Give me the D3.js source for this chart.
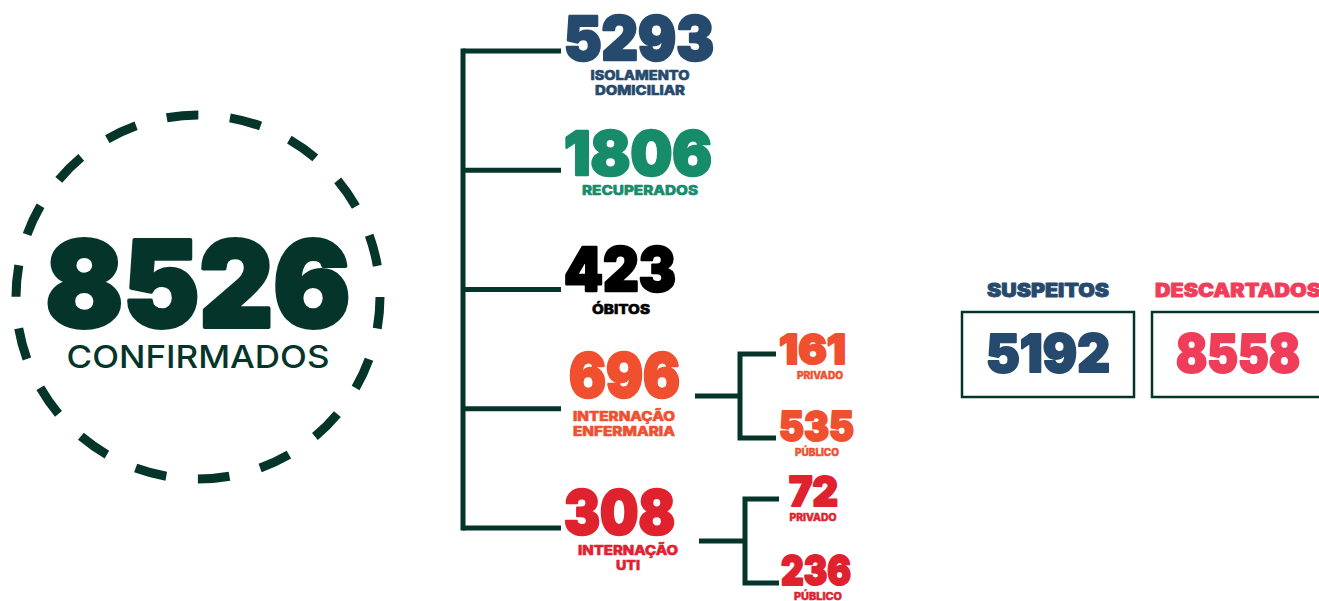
<!DOCTYPE html>
<html><head><meta charset="utf-8">
<script src="https://cdn.jsdelivr.net/npm/d3@7"></script>
<style>html,body{margin:0;padding:0;background:#fff;overflow:hidden}</style>
</head><body>
<svg id="c" width="1319" height="601"></svg>
<script>
// ---- data ----
const totalLabel = "CONFIRMADOS";
const totalValue = 8526;
const branchKeys = ["isolamento", "recuperados", "obitos", "enfermaria", "uti"];
const branchLabels = [["ISOLAMENTO", "DOMICILIAR"], ["RECUPERADOS"], ["ÓBITOS"], ["INTERNAÇÃO", "ENFERMARIA"], ["INTERNAÇÃO", "UTI"]];
const branchValues = [5293, 1806, 423, 696, 308];
const subLabels = ["PRIVADO", "PÚBLICO"];
const enfermariaValues = [161, 535];
const utiValues = [72, 236];
const sideLabels = ["SUSPEITOS", "DESCARTADOS"];
const sideValues = [5192, 8558];

// ---- styles ----
const DARK = "#05352a";
const branchColors = ["#264a6d", "#178c6b", "#000000", "#f0502f", "#e0222f"];
const sideColors = ["#264a6d", "#ef3d5a"];
const FONT = "Inter, 'Noto Sans', sans-serif";

const svg = d3.select("#c");

function txt(g, s, x, y, size, weight, color, anchor, width, sw) {
  const t = g.append("text").attr("x", x).attr("y", y)
    .attr("font-family", FONT).attr("font-size", size).attr("font-weight", weight)
    .attr("fill", color).attr("text-anchor", anchor || "start").text(s);
  if (width) t.attr("textLength", width).attr("lengthAdjust", "spacingAndGlyphs");
  if (sw) t.attr("stroke", color).attr("stroke-width", sw).attr("stroke-linejoin", "round");
  return t;
}

// ---- circle ----
const cx = 198, cy = 297, r = 182;
const circ = 2 * Math.PI * r;
svg.append("circle").attr("cx", cx).attr("cy", cy).attr("r", r)
  .attr("fill", "none").attr("stroke", DARK).attr("stroke-width", 9)
  .attr("stroke-dasharray", `${circ / 36} ${circ / 36}`);
txt(svg, d3.format("d")(totalValue), 198, 327, 119, 900, DARK, "middle", 305, 4);
txt(svg, totalLabel, 198, 368, 31, 500, DARK, "middle", 263);

// ---- tree ----
const y = d3.scalePoint().domain(branchKeys).range([51, 528]);
const trunkX = 463, branchEnd = 561;
const tree = svg.append("g").attr("stroke", DARK).attr("stroke-width", 5).attr("fill", "none");
tree.append("path").attr("d", `M${trunkX + 2.5},${y(branchKeys[0])}H${trunkX}V${y(branchKeys[4])}H${trunkX + 2.5}`);
branchKeys.forEach(k => tree.append("line").attr("x1", trunkX).attr("x2", branchEnd).attr("y1", y(k)).attr("y2", y(k)));

// layout of number nodes (positions only)
const nodeLayout = [
  {x: 564, base: 60, w: 150, lx: 640, lb: 80, lw: [99, 90]},
  {x: 564, base: 175, w: 148, lx: 640, lb: 195, lw: [116]},
  {x: 564, base: 291, w: 112, lx: 621, lb: 314, lw: [58]},
  {x: 569, base: 397, w: 111, lx: 624, lb: 421, lw: [102, 102]},
  {x: 564, base: 534, w: 111, lx: 628, lb: 555, lw: [100, 24]}
];
const g = svg.append("g");
branchValues.forEach((v, i) => {
  const L = nodeLayout[i];
  txt(g, String(v), L.x, L.base, 61, 900, branchColors[i], "start", L.w, 2.5);
  branchLabels[i].forEach((s, j) => {
    txt(g, s, L.lx, L.lb + j * 15, 13.5, 800, branchColors[i], "middle", L.lw[j], 0.6);
  });
});

// sub branches
function sub(parentKey, values, color, L) {
  const sy = d3.scalePoint().domain(subLabels).range([L.top, L.bottom]);
  const py = (L.top + L.bottom) / 2;
  const sg = svg.append("g").attr("stroke", DARK).attr("stroke-width", 5).attr("fill", "none");
  sg.append("line").attr("x1", L.x0).attr("x2", L.vx).attr("y1", py).attr("y2", py);
  sg.append("path").attr("d", `M${L.x1},${sy(subLabels[0])}H${L.vx}V${sy(subLabels[1])}H${L.x1}`);
  values.forEach((v, i) => {
    const N = L.nodes[i];
    txt(svg, String(v), N.x, N.base, 41, 900, color, "start", N.w, 2);
    txt(svg, subLabels[i], N.lx, N.base + 14.5, 10, 800, color, "middle", N.lw, 0.5);
  });
}
sub("enfermaria", enfermariaValues, branchColors[3], {
  x0: 695, vx: 740, x1: 776, top: 354, bottom: 438,
  nodes: [{x: 779, base: 364, w: 67, lx: 820, lw: 46}, {x: 779, base: 441, w: 75, lx: 817, lw: 44}]
});
sub("uti", utiValues, branchColors[4], {
  x0: 699, vx: 745, x1: 779, top: 499, bottom: 583,
  nodes: [{x: 789, base: 506, w: 49, lx: 813, lw: 47}, {x: 781, base: 585, w: 70, lx: 818, lw: 48}]
});

// ---- side boxes ----
const bx = d3.scaleBand().domain(sideLabels).range([962, 1324]).paddingInner(18 / 190);
const sideLabelW = [122, 166];
sideLabels.forEach((s, i) => {
  const x0 = bx(s), w = bx.bandwidth(), c = x0 + w / 2;
  svg.append("rect").attr("x", x0).attr("y", 312).attr("width", w).attr("height", 85)
    .attr("fill", "none").attr("stroke", DARK).attr("stroke-width", 2.5);
  txt(svg, s, c, 297, 18.5, 900, sideColors[i], "middle", sideLabelW[i], 0.8);
  txt(svg, String(sideValues[i]), c, 372, 52, 900, sideColors[i], "middle", 124, 2);
});
</script>
</body></html>
